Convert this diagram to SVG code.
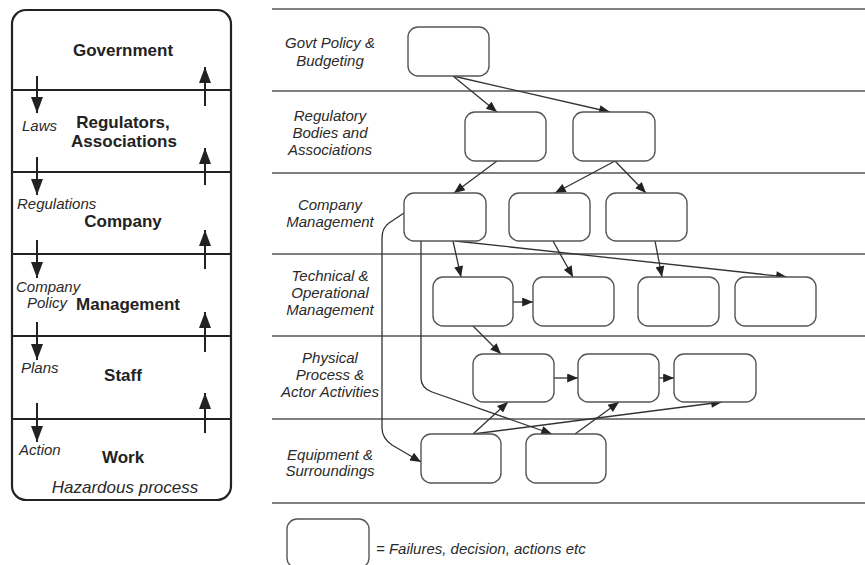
<svg xmlns="http://www.w3.org/2000/svg" width="865" height="565" viewBox="0 0 865 565">
<style>
.bg{fill:#fff}
.panel{fill:none;stroke:#222;stroke-width:2.2}
.pline{stroke:#222;stroke-width:2}
.lane{stroke:#555;stroke-width:1.5}
.node{fill:#fff;stroke:#555;stroke-width:1.4}
.con{fill:none;stroke:#333;stroke-width:1.3}
.flow{fill:none;stroke:#222;stroke-width:2}
.b{font-family:"Liberation Sans",Arial,sans-serif;font-weight:bold;font-size:17px;fill:#222;text-anchor:middle}
.i{font-family:"Liberation Sans",Arial,sans-serif;font-style:italic;font-size:15px;fill:#2a2a2a}
.lab{text-anchor:middle}
</style>
<defs>
<marker id="ah" viewBox="0 0 12 10" refX="12" refY="5" markerWidth="12" markerHeight="9" orient="auto" markerUnits="userSpaceOnUse"><path d="M0,0 L12,5 L0,10 z" fill="#222"/></marker>
<marker id="ahb" viewBox="0 0 16 12" refX="16" refY="6" markerWidth="16" markerHeight="12" orient="auto" markerUnits="userSpaceOnUse"><path d="M0,0 L16,6 L0,12 z" fill="#222"/></marker>
</defs>
<rect class="bg" x="0" y="0" width="865" height="565"/>

<g id="levels-panel">
<rect class="panel" x="12" y="10" width="219" height="490" rx="14"/>
<line class="pline" x1="12" y1="90" x2="231" y2="90"/>
<line class="pline" x1="12" y1="172" x2="231" y2="172"/>
<line class="pline" x1="12" y1="254" x2="231" y2="254"/>
<line class="pline" x1="12" y1="336" x2="231" y2="336"/>
<line class="pline" x1="12" y1="419" x2="231" y2="419"/>
<text class="b" x="123" y="56">Government</text>
<text class="b" x="123" y="128">Regulators,</text>
<text class="b" x="124" y="147">Associations</text>
<text class="b" x="123" y="227">Company</text>
<text class="b" x="128" y="310">Management</text>
<text class="b" x="123" y="381">Staff</text>
<text class="b" x="123" y="463">Work</text>
<text class="i" x="22" y="131">Laws</text>
<text class="i" x="17" y="209">Regulations</text>
<text class="i" x="16" y="292">Company</text>
<text class="i" x="27" y="308">Policy</text>
<text class="i" x="21" y="373">Plans</text>
<text class="i" x="19" y="455">Action</text>
<text class="i" x="125" y="493" style="font-size:17px;text-anchor:middle">Hazardous process</text>
</g>

<g id="level-arrows">
<line class="flow" x1="37" y1="76" x2="37" y2="113" marker-end="url(#ahb)"/>
<line class="flow" x1="37" y1="157" x2="37" y2="195" marker-end="url(#ahb)"/>
<line class="flow" x1="37" y1="240" x2="37" y2="278" marker-end="url(#ahb)"/>
<line class="flow" x1="37" y1="322" x2="37" y2="360" marker-end="url(#ahb)"/>
<line class="flow" x1="37" y1="403" x2="37" y2="442" marker-end="url(#ahb)"/>
<line class="flow" x1="205" y1="106" x2="205" y2="67" marker-end="url(#ahb)"/>
<line class="flow" x1="205" y1="185" x2="205" y2="148" marker-end="url(#ahb)"/>
<line class="flow" x1="205" y1="269" x2="205" y2="230" marker-end="url(#ahb)"/>
<line class="flow" x1="205" y1="352" x2="205" y2="312" marker-end="url(#ahb)"/>
<line class="flow" x1="205" y1="433" x2="205" y2="393" marker-end="url(#ahb)"/>
</g>

<g id="lanes">
<line class="lane" x1="272" y1="9" x2="865" y2="9"/>
<line class="lane" x1="272" y1="91" x2="865" y2="91"/>
<line class="lane" x1="272" y1="173" x2="865" y2="173"/>
<line class="lane" x1="272" y1="254" x2="865" y2="254"/>
<line class="lane" x1="272" y1="336" x2="865" y2="336"/>
<line class="lane" x1="272" y1="419" x2="865" y2="419"/>
<line class="lane" x1="272" y1="503" x2="865" y2="503"/>
<text class="i lab" x="330" y="48">Govt Policy &amp;</text>
<text class="i lab" x="330" y="66">Budgeting</text>
<text class="i lab" x="330" y="121">Regulatory</text>
<text class="i lab" x="330" y="138">Bodies and</text>
<text class="i lab" x="330" y="155">Associations</text>
<text class="i lab" x="330" y="210">Company</text>
<text class="i lab" x="330" y="227">Management</text>
<text class="i lab" x="330" y="281">Technical &amp;</text>
<text class="i lab" x="330" y="298">Operational</text>
<text class="i lab" x="330" y="315">Management</text>
<text class="i lab" x="330" y="363">Physical</text>
<text class="i lab" x="330" y="380">Process &amp;</text>
<text class="i lab" x="330" y="397">Actor Activities</text>
<text class="i lab" x="330" y="460">Equipment &amp;</text>
<text class="i lab" x="330" y="476">Surroundings</text>
</g>

<g id="connectors">
<line class="con" x1="453" y1="76" x2="497" y2="112" marker-end="url(#ah)"/>
<line class="con" x1="453" y1="76" x2="610" y2="112" marker-end="url(#ah)"/>
<line class="con" x1="497" y1="161" x2="454" y2="193" marker-end="url(#ah)"/>
<line class="con" x1="615" y1="161" x2="555" y2="193" marker-end="url(#ah)"/>
<line class="con" x1="615" y1="161" x2="646" y2="193" marker-end="url(#ah)"/>
<line class="con" x1="453" y1="241" x2="461" y2="277" marker-end="url(#ah)"/>
<line class="con" x1="455" y1="241" x2="787" y2="277" marker-end="url(#ah)"/>
<line class="con" x1="553" y1="241" x2="573" y2="277" marker-end="url(#ah)"/>
<line class="con" x1="655" y1="241" x2="662" y2="277" marker-end="url(#ah)"/>
<line class="con" x1="513" y1="302" x2="533" y2="302" marker-end="url(#ah)"/>
<line class="con" x1="473" y1="326" x2="501" y2="354" marker-end="url(#ah)"/>
<line class="con" x1="554" y1="378" x2="578" y2="378" marker-end="url(#ah)"/>
<line class="con" x1="659" y1="378" x2="674" y2="378" marker-end="url(#ah)"/>
<line class="con" x1="473" y1="434" x2="508" y2="402" marker-end="url(#ah)"/>
<line class="con" x1="473" y1="434" x2="722" y2="402" marker-end="url(#ah)"/>
<line class="con" x1="575" y1="434" x2="619" y2="402" marker-end="url(#ah)"/>
<path class="con" d="M404,213 L389,223 Q382,228 382,238 L382,428 Q382,438 392,445 L421,462" marker-end="url(#ah)"/>
<path class="con" d="M421,241 L421,378 Q421,388 432,392 L552,434" marker-end="url(#ah)"/>
</g>

<g id="n-govt"><rect class="node" x="408" y="27" width="81" height="49" rx="10"/></g>
<g id="n-reg1"><rect class="node" x="465" y="112" width="81" height="49" rx="10"/></g>
<g id="n-reg2"><rect class="node" x="573" y="112" width="82" height="49" rx="10"/></g>
<g id="n-comp1"><rect class="node" x="404" y="193" width="82" height="48" rx="10"/></g>
<g id="n-comp2"><rect class="node" x="509" y="193" width="81" height="48" rx="10"/></g>
<g id="n-comp3"><rect class="node" x="606" y="193" width="81" height="48" rx="10"/></g>
<g id="n-tech1"><rect class="node" x="433" y="277" width="80" height="49" rx="10"/></g>
<g id="n-tech2"><rect class="node" x="533" y="277" width="81" height="49" rx="10"/></g>
<g id="n-tech3"><rect class="node" x="638" y="277" width="81" height="49" rx="10"/></g>
<g id="n-tech4"><rect class="node" x="735" y="277" width="81" height="49" rx="10"/></g>
<g id="n-phys1"><rect class="node" x="473" y="354" width="81" height="48" rx="10"/></g>
<g id="n-phys2"><rect class="node" x="578" y="354" width="81" height="48" rx="10"/></g>
<g id="n-phys3"><rect class="node" x="674" y="354" width="82" height="48" rx="10"/></g>
<g id="n-equip1"><rect class="node" x="421" y="434" width="80" height="49" rx="10"/></g>
<g id="n-equip2"><rect class="node" x="526" y="434" width="80" height="49" rx="10"/></g>

<g id="legend">
<rect class="node" x="287" y="519" width="82" height="49" rx="10"/>
<text class="i" x="376" y="554">= Failures, decision, actions etc</text>
</g>
</svg>
